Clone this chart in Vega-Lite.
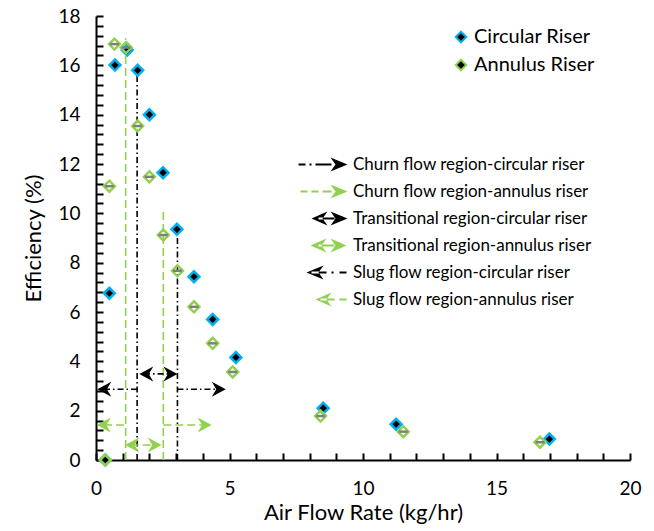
{
  "$schema": "https://vega.github.io/schema/vega-lite/v6.json",
  "autosize": "none",
  "width": 534,
  "height": 444,
  "padding": {"left": 96, "top": 16, "right": 24, "bottom": 71},
  "config": {
    "font": "Lato",
    "view": {"stroke": null},
    "legend": {"padding": 0, "titlePadding": 0, "labelLimit": 0},
    "axis": {"ticks": true, "tickColor": "black", "tickWidth": 2, "tickOpacity": 1}
  },
  "encoding": {
    "x": {"field": "x", "type": "quantitative",
      "scale": {"domain": [0, 20], "nice": false},
      "axis": {
        "values": [0,1,2,3,4,5,6,7,8,9,10,11,12,13,14,15,16,17,18,19,20],
        "labelExpr": "datum.value % 5 === 0 ? datum.label : ''",
        "ticks": true,
        "tickSize": -7,
        "grid": false,
        "domainColor": "black", "domainWidth": 2,
        "labelFontSize": 19, "labelColor": "black",
        "labelFlush": false, "labelOverlap": false,
        "labelPadding": 26,
        "title": "Air Flow Rate (kg/hr)",
        "titleFontSize": 22, "titleFontWeight": "normal", "titleColor": "black",
        "titlePadding": 4
      }
    },
    "y": {"field": "y", "type": "quantitative",
      "scale": {"domain": [0, 18], "nice": false},
      "axis": {
        "values": [0,0.4,0.8,1.2,1.6,2,2.4,2.8,3.2,3.6,4,4.4,4.8,5.2,5.6,6,6.4,6.8,7.2,7.6,8,8.4,8.8,9.2,9.6,10,10.4,10.8,11.2,11.6,12,12.4,12.8,13.2,13.6,14,14.4,14.8,15.2,15.6,16,16.4,16.8,17.2,17.6,18],
        "labelExpr": "datum.value % 2 === 0 ? format(datum.value, 'd') : ''",
        "ticks": true,
        "tickSize": -7,
        "grid": false,
        "domainColor": "black", "domainWidth": 2,
        "labelFontSize": 19, "labelColor": "black",
        "labelFlush": false, "labelOverlap": false,
        "labelPadding": 23,
        "title": "Efficiency (%)",
        "titleFontSize": 22, "titleFontWeight": "normal", "titleColor": "black",
        "titlePadding": 12
      }
    }
  },
  "layer": [
    {
      "data": {"values": [
        {"riser": "annulus", "x": 1.11, "x2": 1.11, "y": 0, "y2": 17.1},
        {"riser": "circular", "x": 1.54, "x2": 1.54, "y": 0, "y2": 15.6},
        {"riser": "annulus", "x": 2.52, "x2": 2.52, "y": 0, "y2": 10.1},
        {"riser": "circular", "x": 3.05, "x2": 3.05, "y": 0, "y2": 9.1},
        {"riser": "circular", "x": 0.3, "x2": 1.54, "y": 2.87, "y2": 2.87},
        {"riser": "circular", "x": 3.05, "x2": 4.6, "y": 2.87, "y2": 2.87},
        {"riser": "circular", "x": 1.8, "x2": 2.85, "y": 3.49, "y2": 3.49},
        {"riser": "annulus", "x": 0.3, "x2": 1.11, "y": 1.42, "y2": 1.42},
        {"riser": "annulus", "x": 2.52, "x2": 4.1, "y": 1.42, "y2": 1.42},
        {"riser": "annulus", "x": 1.3, "x2": 2.3, "y": 0.61, "y2": 0.61}
      ]},
      "mark": {"type": "rule", "strokeWidth": 1.6},
      "encoding": {
        "x2": {"field": "x2"},
        "y2": {"field": "y2"},
        "color": {"field": "riser", "type": "nominal",
          "scale": {"domain": ["circular", "annulus"], "range": ["#000000", "#92D050"]},
          "legend": null},
        "strokeDash": {"field": "riser", "type": "nominal",
          "scale": {"domain": ["circular", "annulus"], "range": [[6, 3, 1.5, 3], [8, 4]]},
          "legend": null}
      }
    },
    {
      "data": {"values": [
        {"riser": "circular", "dir": "left", "x": 0.05, "y": 2.87},
        {"riser": "circular", "dir": "right", "x": 4.86, "y": 2.87},
        {"riser": "circular", "dir": "left", "x": 1.62, "y": 3.49},
        {"riser": "circular", "dir": "right", "x": 3.05, "y": 3.49},
        {"riser": "annulus", "dir": "left", "x": 0.03, "y": 1.42},
        {"riser": "annulus", "dir": "right", "x": 4.33, "y": 1.42},
        {"riser": "annulus", "dir": "left", "x": 1.09, "y": 0.61},
        {"riser": "annulus", "dir": "right", "x": 2.46, "y": 0.61}
      ]},
      "mark": {"type": "point", "filled": true, "opacity": 1, "size": 100, "strokeWidth": 0},
      "encoding": {
        "color": {"field": "riser", "type": "nominal", "legend": null},
        "shape": {"field": "dir", "type": "nominal",
          "scale": {"domain": ["right", "left"], "range": ["M0,0L-2.8,-1.5L-1.9,0L-2.8,1.5Z", "M0,0L2.8,-1.5L1.9,0L2.8,1.5Z"]},
          "legend": null}
      }
    },
    {
      "data": {"values": [
        {"series": "Circular Riser", "x": 0.35, "y": 0},
        {"series": "Circular Riser", "x": 0.5, "y": 6.76},
        {"series": "Circular Riser", "x": 0.71, "y": 16.01},
        {"series": "Circular Riser", "x": 1.17, "y": 16.62},
        {"series": "Circular Riser", "x": 1.56, "y": 15.8},
        {"series": "Circular Riser", "x": 2.0, "y": 14.0},
        {"series": "Circular Riser", "x": 2.51, "y": 11.65},
        {"series": "Circular Riser", "x": 3.03, "y": 9.35},
        {"series": "Circular Riser", "x": 3.67, "y": 7.43},
        {"series": "Circular Riser", "x": 4.37, "y": 5.7},
        {"series": "Circular Riser", "x": 5.24, "y": 4.16},
        {"series": "Circular Riser", "x": 8.51, "y": 2.1},
        {"series": "Circular Riser", "x": 11.24, "y": 1.45},
        {"series": "Circular Riser", "x": 16.98, "y": 0.85},
        {"series": "Annulus Riser", "x": 0.35, "y": 0},
        {"series": "Annulus Riser", "x": 0.5, "y": 11.1},
        {"series": "Annulus Riser", "x": 0.69, "y": 16.86},
        {"series": "Annulus Riser", "x": 1.13, "y": 16.72},
        {"series": "Annulus Riser", "x": 1.56, "y": 13.54},
        {"series": "Annulus Riser", "x": 2.0, "y": 11.48},
        {"series": "Annulus Riser", "x": 2.52, "y": 9.12},
        {"series": "Annulus Riser", "x": 3.05, "y": 7.67},
        {"series": "Annulus Riser", "x": 3.67, "y": 6.21},
        {"series": "Annulus Riser", "x": 4.37, "y": 4.73},
        {"series": "Annulus Riser", "x": 5.12, "y": 3.57},
        {"series": "Annulus Riser", "x": 8.41, "y": 1.78},
        {"series": "Annulus Riser", "x": 11.51, "y": 1.15},
        {"series": "Annulus Riser", "x": 16.63, "y": 0.72}
      ]},
      "layer": [
        {
          "mark": {"type": "point", "shape": "diamond", "filled": true, "opacity": 1, "size": 120, "strokeWidth": 2.5},
          "encoding": {
            "fill": {"field": "series", "type": "nominal",
              "scale": {"domain": ["Circular Riser", "Annulus Riser"], "range": ["#000000", "transparent"]},
              "legend": null},
            "stroke": {"field": "series", "type": "nominal",
              "scale": {"domain": ["Circular Riser", "Annulus Riser"], "range": ["#00B0F0", "#92D050"]},
              "legend": {"title": null, "orient": "none", "legendX": 355, "legendY": 11,
                "symbolType": "diamond", "symbolSize": 110, "symbolStrokeWidth": 2,
                "labelFontSize": 20, "labelColor": "black", "labelOffset": 3, "rowPadding": 8,
                "encode": {"symbols": {"update": {"fill": {"signal": "datum.value === 'Circular Riser' ? '#000000' : '#ffffff'"}}}}}}
          }
        },
        {
          "transform": [{"filter": "datum.series === 'Annulus Riser' && datum.y > 0"}],
          "mark": {"type": "tick", "orient": "horizontal", "size": 9, "thickness": 2.5, "color": "#7F7F7F", "opacity": 1}
        }
      ]
    },
    {
      "data": {"values": [
        {"region": "Churn flow region-circular riser", "x": 0, "y": 0},
        {"region": "Churn flow region-annulus riser", "x": 0, "y": 0},
        {"region": "Transitional region-circular riser", "x": 0, "y": 0},
        {"region": "Transitional region-annulus riser", "x": 0, "y": 0},
        {"region": "Slug flow region-circular riser", "x": 0, "y": 0},
        {"region": "Slug flow region-annulus riser", "x": 0, "y": 0}
      ]},
      "mark": {"type": "point", "filled": true, "opacity": 0, "size": 100, "strokeWidth": 0},
      "encoding": {
        "fill": {"field": "region", "type": "nominal",
          "scale": {"domain": ["Churn flow region-circular riser", "Churn flow region-annulus riser", "Transitional region-circular riser", "Transitional region-annulus riser", "Slug flow region-circular riser", "Slug flow region-annulus riser"],
            "range": ["#000000", "#92D050", "#000000", "#92D050", "#000000", "#92D050"]},
          "legend": {"title": null, "orient": "none", "legendX": 219, "legendY": 140,
            "symbolOpacity": 1, "symbolSize": 100, "symbolStrokeWidth": 0,
            "labelFontSize": 17, "labelColor": "black", "labelOffset": 21, "rowPadding": 9}},
        "shape": {"field": "region", "type": "nominal",
          "scale": {"domain": ["Churn flow region-circular riser", "Churn flow region-annulus riser", "Transitional region-circular riser", "Transitional region-annulus riser", "Slug flow region-circular riser", "Slug flow region-annulus riser"],
            "range": [
              "M-5,-0.22H-3.6V0.22H-5ZM-2.8,-0.22H-2.4V0.22H-2.8ZM-1.6,-0.22H1.6V0.22H-1.6ZM1.4,-1.4L4.8,0L1.4,1.4L2.4,0Z",
              "M-4.6,-0.22H-3.2V0.22H-4.6ZM-2.4,-0.22H-1V0.22H-2.4ZM-0.2,-0.22H1.6V0.22H-0.2ZM1.4,-1.4L4.8,0L1.4,1.4L2.4,0Z",
              "M0.8,-1.4L-2.4,0L0.8,1.4L-0.2,0ZM-1,-0.22H2.2V0.22H-1ZM1.4,-1.4L4.8,0L1.4,1.4L2.4,0Z",
              "M0.6,-1.4L-2.6,0L0.6,1.4L-0.4,0ZM-1,-0.22H2.2V0.22H-1ZM1.4,-1.4L4.6,0L1.4,1.4L2.4,0Z",
              "M0,-1.4L-3.4,0L0,1.4L-1,0ZM-2.4,-0.22H0.6V0.22H-2.4ZM1.6,-0.22H2V0.22H1.6ZM3.2,-0.22H4.6V0.22H3.2Z",
              "M1.6,-1.4L-1.6,0L1.6,1.4L0.6,0ZM-0.6,-0.22H2.2V0.22H-0.6ZM3.2,-0.22H4.6V0.22H3.2Z"
            ]},
          "legend": {"title": null, "orient": "none", "legendX": 219, "legendY": 140,
            "symbolOpacity": 1, "symbolSize": 100, "symbolStrokeWidth": 0,
            "labelFontSize": 17, "labelColor": "black", "labelOffset": 21, "rowPadding": 9}}
      }
    }
  ],
  "resolve": {"scale": {"shape": "independent", "fill": "independent", "color": "shared"}, "legend": {"shape": "independent", "fill": "independent"}}
}
